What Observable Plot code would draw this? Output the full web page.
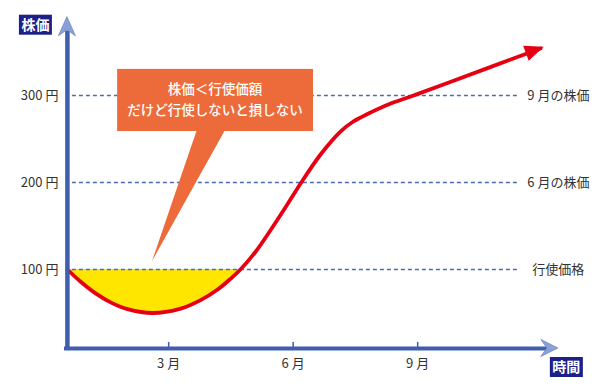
<!DOCTYPE html>
<html><head><meta charset="utf-8">
<script src="https://cdn.jsdelivr.net/npm/d3@7"></script>
<script src="https://cdn.jsdelivr.net/npm/@observablehq/plot@0.6"></script>
<style>
body{margin:0;background:#fff;}
#chart{width:605px;height:390px;position:relative;}
</style>
</head><body><div id="chart"></div>
<script>
// ---- data (months, price in 円) ----
const months = [0.56,0.88,1.24,1.60,2.01,2.61,3.29,3.77,4.18,4.49,4.73,5.09,5.45,5.82,6.18,6.66,7.14,7.45,7.79,8.35,8.90,9.72,11.96];
const prices = [100,85.9,72.5,62.2,54.4,50,55.1,64.8,77,89.3,100,120.1,144.8,171.8,198.9,232.2,258.6,270.1,278.7,290.8,300,314.4,354];
const strike = 100;
const levelValues = [300,200,100];
const levelLabels = ["9 月の株価","6 月の株価","行使価格"];
const yTicks = [100,200,300];
const yTickLabels = ["100 円","200 円","300 円"];
const xTicks = [3,6,9];
const xTickLabels = ["3 月","6 月","9 月"];
const calloutLines = ["株価＜行使価額","だけど行使しないと損しない"];
const yAxisTitle = "株価";
const xAxisTitle = "時間";

const FONT = "'Noto Sans CJK JP','Noto Sans',sans-serif";
const AXIS = "#3f5eae";
const DASH = "#4a6bb5";
const RED = "#e60012";
const ORANGE = "#ed6b3a";
const NAVY = "#1d2088";

const curve = months.map((m,i)=>({m, p: prices[i]}));

const yAxisM = 0.56;   // month where y axis stands
const yBase = 9.2;     // value where x axis lies

const plot = Plot.plot({
  width: 605, height: 390,
  marginLeft: 43.67, marginRight: 63.33, marginTop: 8, marginBottom: 34,
  x: {domain: [0, 12], axis: null},
  y: {domain: [0, 400], axis: null},
  style: {fontFamily: FONT, background: "#fff", overflow: "visible"},
  marks: [
    Plot.areaY(curve, {x: "m", y1: strike, y2: "p", curve: "catmull-rom", fill: "#ffe600"}),
    Plot.ruleY(levelValues, {x1: 0.68, x2: 11.43, stroke: DASH, strokeWidth: 1.3, strokeDasharray: "4,3"}),
    Plot.line(curve, {x: "m", y: "p", curve: "catmull-rom", stroke: RED, strokeWidth: 3.8}),
    Plot.ruleX([yAxisM], {y1: 6.9, y2: 374, stroke: AXIS, strokeWidth: 4.5}),
    Plot.ruleY([yBase], {x1: 0.49, x2: 12.15, stroke: AXIS, strokeWidth: 4}),
    Plot.ruleX(xTicks, {y1: yBase, y2: yBase + 7, stroke: AXIS, strokeWidth: 1.5}),
    Plot.text(xTicks, {x: d => d, y: yBase, dy: 15, text: (d,i) => xTickLabels[i], fontSize: 13, fill: "#333"}),
    Plot.text(yTicks, {x: yAxisM, y: d => d, dx: -9, textAnchor: "end", text: (d,i) => yTickLabels[i], fontSize: 13, fill: "#333"}),
    Plot.text(levelValues, {x: 12.39, y: d => d, text: (d,i) => levelLabels[i], fontSize: 13, fill: "#333"})
  ]
});
document.getElementById("chart").append(plot);

const sx = plot.scale("x"), sy = plot.scale("y");
const X = v => sx.apply(v), Y = v => sy.apply(v);
const svg = d3.select(plot);

// keep only the part of the area below the strike line
svg.append("defs").append("clipPath").attr("id", "belowStrike")
  .append("rect").attr("x", 0).attr("y", Y(strike)).attr("width", 605).attr("height", 390 - Y(strike));
svg.select("g[aria-label='area']").attr("clip-path", "url(#belowStrike)");

const g = svg.append("g");

// red arrowhead
{
  const n = curve.length;
  const x2 = X(curve[n-1].m), y2 = Y(curve[n-1].p);
  const path = svg.select("g[aria-label='line'] path").node();
  const len = path.getTotalLength();
  const p0 = path.getPointAtLength(len - 12);
  const a = Math.atan2(y2 - p0.y, x2 - p0.x);
  const tipX = x2 + 4*Math.cos(a), tipY = y2 + 4*Math.sin(a);
  const L = 19, W = 8;
  const bx = tipX - L*Math.cos(a), by = tipY - L*Math.sin(a);
  const px = -Math.sin(a), py = Math.cos(a);
  g.append("polygon").attr("points", [[tipX,tipY],[bx+W*px,by+W*py],[bx-W*px,by-W*py]].map(p=>p.join(",")).join(" ")).attr("fill", RED);
}
// y axis arrowhead
{
  const cx = X(yAxisM), tip = Y(390);
  g.append("polygon").attr("points", [[cx,tip],[cx+8.5,tip+19],[cx,tip+13],[cx-8.5,tip+19]].map(p=>p.join(",")).join(" "))
    .attr("fill", "#8aa0d6").attr("stroke", "#6d86c8").attr("stroke-width", 0.8);
}
// x axis arrowhead
{
  const cy = Y(yBase), tip = X(12.39);
  g.append("polygon").attr("points", [[tip,cy],[tip-17,cy-8.5],[tip-11,cy],[tip-17,cy+8.5]].map(p=>p.join(",")).join(" "))
    .attr("fill", "#8aa0d6").attr("stroke", "#6d86c8").attr("stroke-width", 0.8);
}
// callout
{
  const bx1 = X(1.77), bx2 = X(6.49), by1 = Y(330), by2 = Y(258.6);
  g.append("polygon").attr("points", [[X(3.69), by2 - 1],[X(4.37), by2 - 1],[X(2.61), Y(109)]].map(p=>p.join(",")).join(" ")).attr("fill", ORANGE);
  g.append("rect").attr("x", bx1).attr("y", by1).attr("width", bx2-bx1).attr("height", by2-by1).attr("fill", ORANGE);
  const cx = (bx1+bx2)/2;
  calloutLines.forEach((t,i) => {
    g.append("text").attr("x", cx).attr("y", by1 + 20 + i*21).attr("dy", "0.35em")
      .attr("text-anchor", "middle").attr("fill", "#fff").attr("font-size", 13.5)
      .attr("font-family", FONT).attr("font-weight", 500).text(t);
  });
}
// axis title boxes
function titleBox(x, y, w, h, t) {
  g.append("rect").attr("x", x).attr("y", y).attr("width", w).attr("height", h).attr("fill", NAVY);
  g.append("text").attr("x", x + w/2).attr("y", y + h/2).attr("dy", "0.36em").attr("text-anchor", "middle")
    .attr("fill", "#fff").attr("font-size", 14).attr("font-weight", "bold").attr("font-family", FONT).text(t);
}
titleBox(X(yAxisM) - 48, Y(390) - 2, 33, 20, yAxisTitle);
titleBox(X(12.39) - 8, Y(yBase) + 9, 33, 20, xAxisTitle);
</script>
</body></html>
